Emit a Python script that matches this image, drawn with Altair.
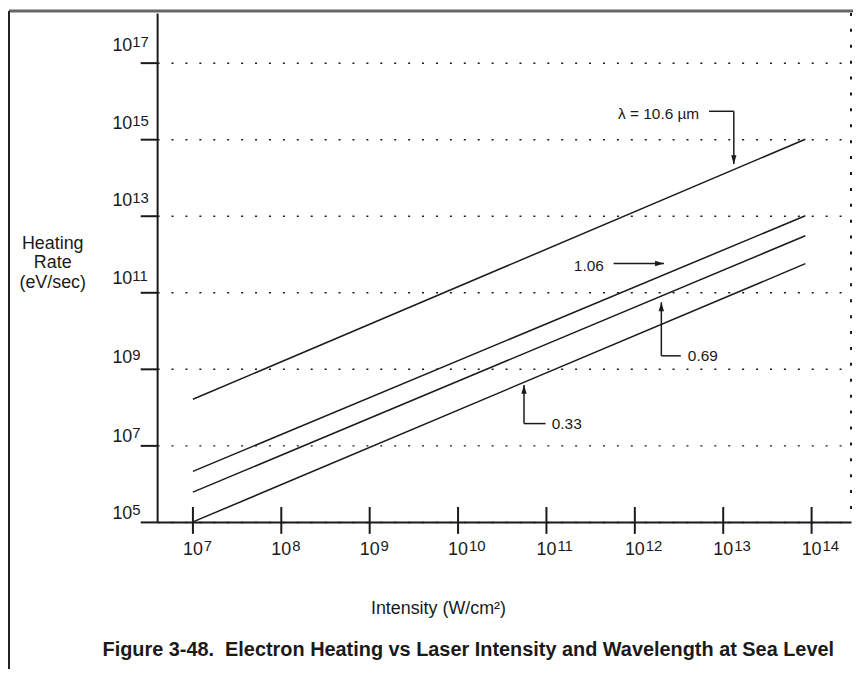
import altair as alt
import pandas as pd

FONT = "Liberation Sans, Arial, Helvetica, sans-serif"
INK = "#1a1a1a"

# ---------------- data ----------------
wavelengths = ["10.6", "1.06", "0.69", "0.33"]
intensity_span = [1e7, 8.5e13]                      # W/cm^2, start / end of each line
rate_start = [1.6e8, 2.1e6, 6.0e5, 1.0e5]           # eV/sec at 1e7 W/cm^2
rate_end = [1.0e15, 1.0e13, 3.0e12, 5.6e11]         # eV/sec at line end

x_tick_exp = [7, 8, 9, 10, 11, 12, 13, 14]
y_tick_exp = [5, 7, 9, 11, 13, 15, 17]
y_label_pos = [5.08, 7.10, 9.14, 11.21, 13.25, 15.26, 17.31]  # label baselines (log10)

# annotation labels (positions in log10 units)
ann_text = ["\u03bb = 10.6 \u00b5m", "1.06", "0.69", "0.33"]
ann_x = [11.81, 11.31, 12.60, 11.06]
ann_y = [15.65, 11.675, 9.34, 7.57]

# leader segments (log10 units)
seg_x = [12.84, 13.12, 11.76, 12.30, 12.30, 10.746, 10.746]
seg_x2 = [13.12, 13.12, 12.33, 12.30, 12.52, 10.746, 10.99]
seg_y = [15.73, 15.73, 11.753, 9.34, 9.34, 7.57, 7.57]
seg_y2 = [15.73, 14.35, 11.753, 10.74, 9.34, 8.58, 7.57]

# arrow heads
head_x = [13.12, 12.33, 12.30, 10.746]
head_y = [14.35, 11.753, 10.74, 8.58]
head_angle = [0, 270, 180, 180]

# ---------------- tables ----------------
rows = []
for w, s, e in zip(wavelengths, rate_start, rate_end):
    rows.append({"wl": w, "I": intensity_span[0], "R": s})
    rows.append({"wl": w, "I": intensity_span[1], "R": e})
lines_df = pd.DataFrame(rows)

xt_df = pd.DataFrame({"v": [10.0 ** e for e in x_tick_exp], "e": [str(e) for e in x_tick_exp]})
yt_df = pd.DataFrame({"v": [10.0 ** p for p in y_label_pos], "e": [str(e) for e in y_tick_exp]})
ann_df = pd.DataFrame({"t": ann_text, "x": [10.0 ** v for v in ann_x], "y": [10.0 ** v for v in ann_y]})
seg_df = pd.DataFrame({
    "x": [10.0 ** v for v in seg_x], "x2": [10.0 ** v for v in seg_x2],
    "y": [10.0 ** v for v in seg_y], "y2": [10.0 ** v for v in seg_y2],
})
head_df = pd.DataFrame({"x": [10.0 ** v for v in head_x], "y": [10.0 ** v for v in head_y], "a": head_angle})

W, H = 698, 512
xscale = alt.Scale(type="log", domain=[10 ** 6.595, 10 ** 14.446], nice=False)
yscale = alt.Scale(type="log", domain=[1e5, 10 ** 18.30], nice=False)

XAX = alt.Axis(values=[10.0 ** e for e in x_tick_exp], labels=False, ticks=False, title=None,
               grid=False, domainColor=INK, domainWidth=2)
YAX = alt.Axis(values=[10.0 ** e for e in y_tick_exp], labels=False, title=None,
               tickSize=17, tickWidth=2, tickColor=INK, domainColor=INK, domainWidth=2,
               grid=True, gridDash=[2, 12], gridColor=INK, gridWidth=1.5)


def X(f):
    return alt.X(f, scale=xscale, axis=XAX)


def Y(f):
    return alt.Y(f, scale=yscale, axis=YAX)


lines = alt.Chart(lines_df).mark_line(color=INK, strokeWidth=1.5).encode(
    x=X("I:Q"), y=Y("R:Q"), detail="wl:N")

xticks = alt.Chart(xt_df).mark_rule(color=INK, strokeWidth=2).encode(
    x=X("v:Q"), y=alt.value(497), y2=alt.value(524))

xlab_base = alt.Chart(xt_df).mark_text(
    text="10", font=FONT, fontSize=18, align="left", baseline="alphabetic", dx=-10, color=INK
).encode(x=X("v:Q"), y=alt.value(545))
xlab_exp = alt.Chart(xt_df).mark_text(
    font=FONT, fontSize=15, align="left", baseline="alphabetic", dx=11, color=INK
).encode(x=X("v:Q"), y=alt.value(541.5), text="e:N")

ylab_base = alt.Chart(yt_df).mark_text(
    text="10", font=FONT, fontSize=18, align="left", baseline="alphabetic", color=INK
).encode(x=alt.value(-45), y=Y("v:Q"))
ylab_exp = alt.Chart(yt_df).mark_text(
    font=FONT, fontSize=15, align="left", baseline="alphabetic", dy=-3.5, color=INK
).encode(x=alt.value(-25), y=Y("v:Q"), text="e:N")

dummy = pd.DataFrame({"a": [0]})

right_edge = alt.Chart(dummy).mark_rule(
    color=INK, strokeWidth=2, strokeDash=[3, 13]
).encode(x=alt.value(W), y=alt.value(0), y2=alt.value(H))

segs = alt.Chart(seg_df).mark_rule(color=INK, strokeWidth=1.5).encode(
    x=X("x:Q"), x2="x2:Q", y=Y("y:Q"), y2="y2:Q")

heads = alt.Chart(head_df).mark_point(
    shape="M -0.6 -2 L 0.6 -2 L 0 0 Z", size=81, filled=True, color=INK, opacity=1
).encode(x=X("x:Q"), y=Y("y:Q"), angle=alt.Angle("a:Q", scale=None))

ann = alt.Chart(ann_df).mark_text(
    font=FONT, fontSize=15.5, align="left", baseline="middle", color=INK
).encode(x=X("x:Q"), y=Y("y:Q"), text="t:N")

ytitle = alt.Chart(dummy).mark_text(
    text=["Heating", "Rate", "(eV/sec)"], font=FONT, fontSize=18, lineHeight=20,
    align="center", baseline="middle", color=INK
).encode(x=alt.value(-105), y=alt.value(232))

xtitle = alt.Chart(dummy).mark_text(
    text="Intensity (W/cm\u00b2)", font=FONT, fontSize=18, align="center", baseline="middle", color=INK
).encode(x=alt.value(283), y=alt.value(600))

fig_title = alt.Chart(dummy).mark_text(
    text="Figure 3-48.\u00a0 Electron Heating vs Laser Intensity and Wavelength at Sea Level",
    font=FONT, fontSize=20, fontWeight="bold", align="center", baseline="middle", color=INK
).encode(x=alt.value(313), y=alt.value(641))

frame_top = alt.Chart(dummy).mark_rule(color="#666666", strokeWidth=3).encode(
    x=alt.value(-149), x2=alt.value(700), y=alt.value(-2))
frame_left = alt.Chart(dummy).mark_rule(color="#222222", strokeWidth=2).encode(
    x=alt.value(-149), y=alt.value(-2), y2=alt.value(660))

chart = alt.layer(
    lines, xticks, xlab_base, xlab_exp, ylab_base, ylab_exp, right_edge,
    segs, heads, ann, ytitle, xtitle, fig_title, frame_top, frame_left
).properties(
    width=W, height=H,
    autosize=alt.AutoSizeParams(type="none"),
    padding={"left": 150, "top": 3, "right": 2, "bottom": 150},
    background="white",
).configure_view(stroke=None)

chart.save("out.html", embed_options={"renderer": "svg", "actions": False})
